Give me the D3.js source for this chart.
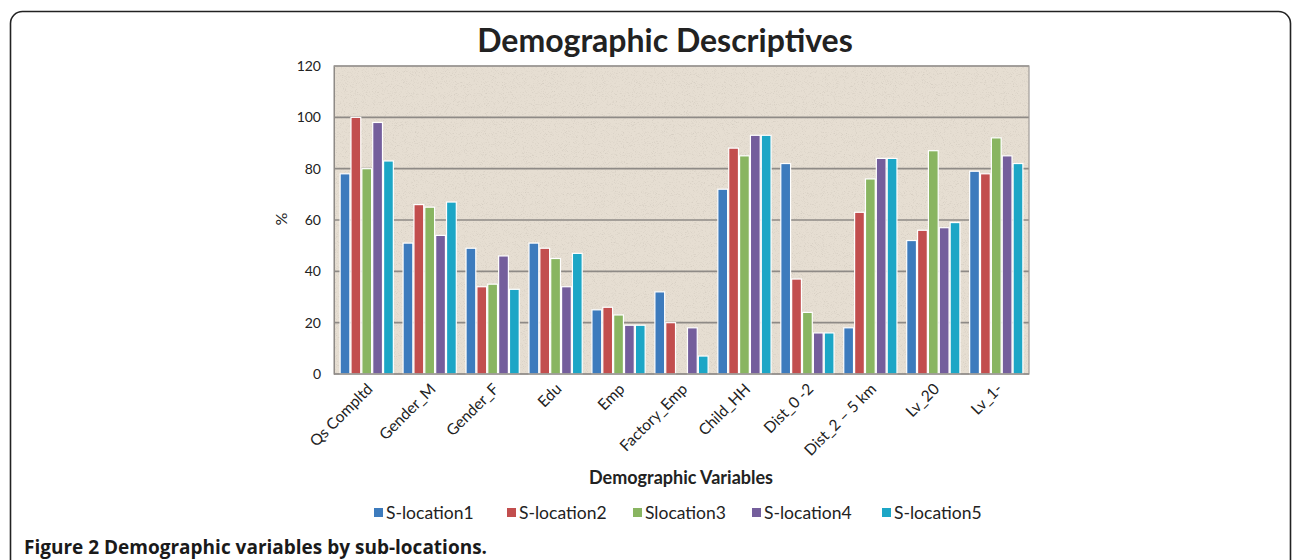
<!DOCTYPE html>
<html>
<head>
<meta charset="utf-8">
<script src="https://cdn.jsdelivr.net/npm/d3@7"></script>
<style>
  html, body { margin: 0; padding: 0; background: #fff; }
  svg { display: block; }
  text { font-family: Lato, "Open Sans", "DejaVu Sans", sans-serif; }
</style>
</head>
<body>
<svg id="chart" width="1292" height="560"></svg>
<script>
// Demographic variables (x categories)
const categories = ["Qs Compltd", "Gender_M", "Gender_F", "Edu", "Emp", "Factory_Emp",
                    "Child_HH", "Dist_0 -2", "Dist_2 – 5 km", "Lv_20", "Lv_1-"];

// Series names (sub-locations)
const seriesNames = ["S-location1", "S-location2", "Slocation3", "S-location4", "S-location5"];

// Percentages per sub-location, one value per category
const sLocation1 = [78, 51, 49, 51, 25, 32, 72, 82, 18, 52, 79];
const sLocation2 = [100, 66, 34, 49, 26, 20, 88, 37, 63, 56, 78];
const sLocation3 = [80, 65, 35, 45, 23, 0, 85, 24, 76, 87, 92];
const sLocation4 = [98, 54, 46, 34, 19, 18, 93, 16, 84, 57, 85];
const sLocation5 = [83, 67, 33, 47, 19, 7, 93, 16, 84, 59, 82];

const yTicks = [0, 20, 40, 60, 80, 100, 120];

const seriesValues = [sLocation1, sLocation2, sLocation3, sLocation4, sLocation5];
const colors = ["#3d7bbd", "#c24e4e", "#89b561", "#745e9c", "#1ca6c6"];

const svg = d3.select("#chart");

// Outer rounded frame
svg.append("rect")
  .attr("x", 10.5).attr("y", 11.5)
  .attr("width", 1280).attr("height", 620)
  .attr("rx", 12).attr("ry", 12)
  .attr("fill", "#fff")
  .attr("stroke", "#222").attr("stroke-width", 1.6);

const plot = { left: 334, right: 1029, top: 66, bottom: 374 };

const x0 = d3.scaleBand()
  .domain(categories)
  .range([plot.left, plot.right])
  .paddingInner(0.12)
  .paddingOuter(0.08);

const x1 = d3.scaleBand()
  .domain(d3.range(seriesNames.length))
  .range([0, x0.bandwidth()])
  .padding(0.1);

const y = d3.scaleLinear().domain([0, 120]).range([plot.bottom, plot.top]);

// Paper-like textured plot background
const defs = svg.append("defs");
const f = defs.append("filter").attr("id", "grain")
  .attr("x", 0).attr("y", 0).attr("width", "100%").attr("height", "100%");
f.append("feTurbulence").attr("type", "fractalNoise")
  .attr("baseFrequency", "1.1").attr("numOctaves", 2).attr("seed", 7).attr("result", "n");
f.append("feColorMatrix").attr("in", "n").attr("type", "matrix")
  .attr("values", "0 0 0 0 0.42  0 0 0 0 0.38  0 0 0 0 0.33  -3.2 0 0 0 1.5");

svg.append("rect")
  .attr("x", plot.left).attr("y", plot.top)
  .attr("width", plot.right - plot.left).attr("height", plot.bottom - plot.top)
  .attr("fill", "#e6ded2");
svg.append("rect")
  .attr("x", plot.left).attr("y", plot.top)
  .attr("width", plot.right - plot.left).attr("height", plot.bottom - plot.top)
  .attr("fill", "#000")
  .attr("filter", "url(#grain)")
  .attr("opacity", 0.28);

// Horizontal gridlines
svg.append("g")
  .selectAll("line")
  .data(yTicks.filter(d => d > 0))
  .join("line")
  .attr("x1", plot.left).attr("x2", plot.right)
  .attr("y1", d => y(d)).attr("y2", d => y(d))
  .attr("stroke", "#8e8a86").attr("stroke-width", 1.6);

// Plot frame
svg.append("rect")
  .attr("x", plot.left).attr("y", plot.top)
  .attr("width", plot.right - plot.left).attr("height", plot.bottom - plot.top)
  .attr("fill", "none")
  .attr("stroke", "#a09c98").attr("stroke-width", 1.2);

// Bars
const groups = svg.append("g")
  .selectAll("g")
  .data(categories)
  .join("g")
  .attr("transform", d => `translate(${x0(d)},0)`);

groups.selectAll("rect")
  .data((cat, i) => seriesValues.map((vals, s) => ({ s, v: vals[i] })))
  .join("rect")
  .filter(d => d.v > 0)
  .attr("x", d => x1(d.s))
  .attr("width", x1.bandwidth())
  .attr("y", d => y(d.v))
  .attr("height", d => y(0) - y(d.v))
  .attr("fill", d => colors[d.s])
  .attr("stroke", "#fff").attr("stroke-width", 1.2);

// Axis line at 0
svg.append("line")
  .attr("x1", plot.left).attr("x2", plot.right)
  .attr("y1", y(0)).attr("y2", y(0))
  .attr("stroke", "#8e8a86").attr("stroke-width", 1.4);

// Y axis
const yAxis = svg.append("g")
  .attr("transform", `translate(${plot.left},0)`)
  .call(d3.axisLeft(y).tickValues(yTicks).tickSize(0).tickPadding(13));
yAxis.select(".domain").attr("stroke", "#8e8a86");
yAxis.selectAll("text")
  .attr("font-size", 14).attr("fill", "#222")
  .style("font-family", "Lato, 'Open Sans', sans-serif");

// X axis labels (rotated)
const xAxis = svg.append("g")
  .attr("transform", `translate(0,${plot.bottom})`)
  .call(d3.axisBottom(x0).tickSize(0).tickPadding(0));
xAxis.select(".domain").remove();
xAxis.selectAll("text")
  .attr("font-size", 15.5).attr("fill", "#222")
  .style("font-family", "Lato, 'Open Sans', sans-serif")
  .attr("text-anchor", "end")
  .attr("dy", null).attr("y", null)
  .attr("transform", "translate(7,16) rotate(-45)");

// Title
svg.append("text")
  .attr("x", 665).attr("y", 52)
  .attr("text-anchor", "middle")
  .attr("font-size", 32).attr("font-weight", "bold").attr("fill", "#222")
  .text("Demographic Descriptives");

// Axis titles
svg.append("text")
  .attr("transform", "translate(287,219) rotate(-90)")
  .attr("text-anchor", "middle")
  .attr("font-size", 16).attr("fill", "#222")
  .text("%");

svg.append("text")
  .attr("x", 681).attr("y", 484)
  .attr("text-anchor", "middle")
  .attr("font-size", 18).attr("font-weight", "bold").attr("fill", "#222")
  .text("Demographic Variables");

// Legend
const legendX = [374, 507, 633, 752, 882];
const legend = svg.append("g")
  .selectAll("g")
  .data(seriesNames)
  .join("g")
  .attr("transform", (d, i) => `translate(${legendX[i]},513)`);
legend.append("rect")
  .attr("x", 0).attr("y", -5).attr("width", 9).attr("height", 9)
  .attr("fill", (d, i) => colors[i]);
legend.append("text")
  .attr("x", 12).attr("y", 5.5)
  .attr("font-size", 17.5).attr("fill", "#222")
  .text(d => d);

// Caption
svg.append("text")
  .attr("x", 24).attr("y", 554)
  .attr("font-size", 19).attr("font-weight", "bold").attr("fill", "#1a1a1a")
  .style("font-family", "'Open Sans', Lato, sans-serif")
  .text("Figure 2 Demographic variables by sub-locations.");
</script>
</body>
</html>
